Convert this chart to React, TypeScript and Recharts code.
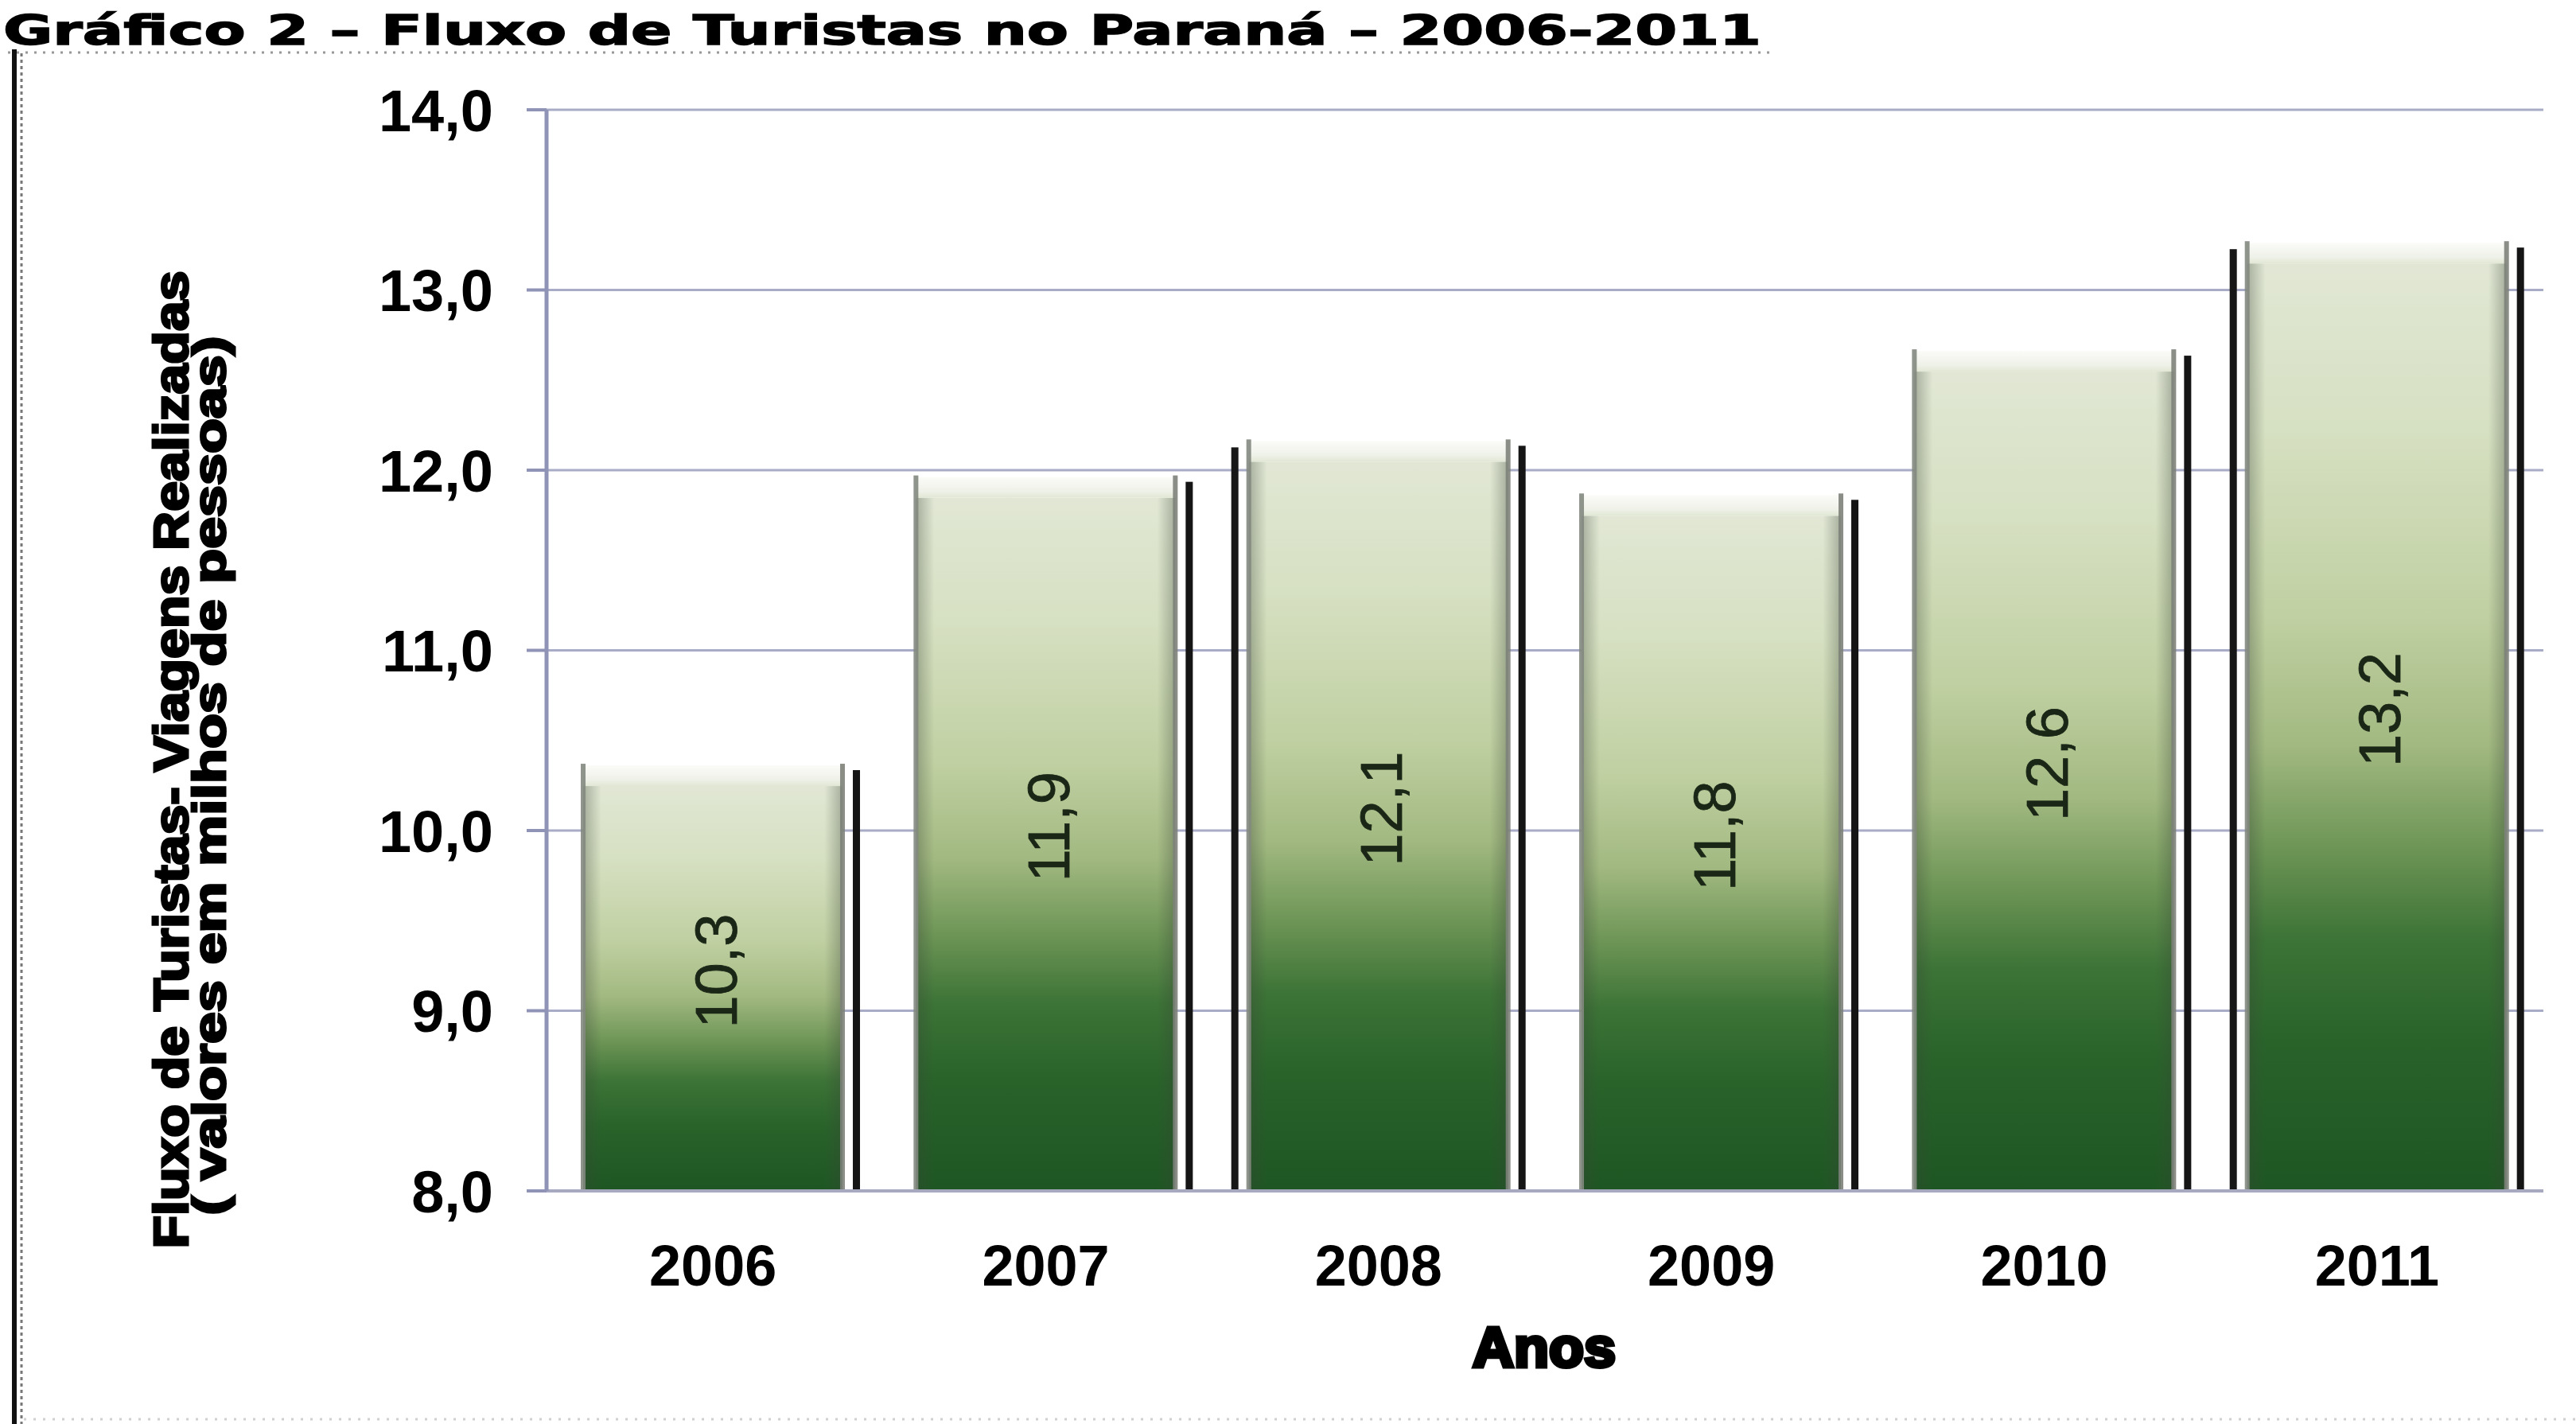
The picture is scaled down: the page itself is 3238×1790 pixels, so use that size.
import React from "react";
import { BarChart, Bar, XAxis, YAxis, CartesianGrid, LabelList } from "recharts";

// Tourist flow in Paraná, millions of trips per year
const years = ["2006", "2007", "2008", "2009", "2010", "2011"];
const flows = [10.3, 11.9, 12.1, 11.8, 12.6, 13.2];
const yTicks = [8, 9, 10, 11, 12, 13, 14];

const chartTitle = "Gráfico 2 – Fluxo de Turistas no Paraná – 2006-2011";
const yTitleLine1 = "Fluxo de Turistas- Viagens Realizadas";
const yTitleLine2 = "( valores em milhos de pessoas)";
const xTitle = "Anos";

const data = years.map((year, i) => ({ year, flow: flows[i] }));

const W = 3238;
const H = 1790;
const Y_AXIS_W = 160;
const X_AXIS_H = 60;
const MARGIN = { top: 138, right: 41, bottom: 233, left: 687 - Y_AXIS_W };

const FONT = "'Liberation Sans', Arial, sans-serif";
const GRID = "#A9ACC6";
const AXIS = "#8F93B6";

const fmt = (v: number) => v.toFixed(1).replace(".", ",");

// cylinders that also carry a dark rim on their left side
const leftRimmed = new Set(["2008", "2011"]);

function CylinderBar(props: any) {
  const { x, y, width, height, index, payload } = props;
  if (height == null || width == null) return null;
  const id = `cyl-${index}`;
  const lip = 12;
  return (
    <g>
      <defs>
        <linearGradient id={`${id}-v`} x1="0" y1="0" x2="0" y2="1">
          <stop offset="0%" stopColor="#E1E7D4" />
          <stop offset="18%" stopColor="#D6E0C2" />
          <stop offset="38%" stopColor="#C0D0A2" />
          <stop offset="52%" stopColor="#A2B981" />
          <stop offset="63%" stopColor="#6D9556" />
          <stop offset="73%" stopColor="#3C7336" />
          <stop offset="84%" stopColor="#29632A" />
          <stop offset="100%" stopColor="#1E5623" />
        </linearGradient>
        <linearGradient id={`${id}-h`} x1="0" y1="0" x2="1" y2="0">
          <stop offset="0%" stopColor="#3A4538" stopOpacity={0.35} />
          <stop offset="7%" stopColor="#3A4538" stopOpacity={0} />
          <stop offset="93%" stopColor="#3A4538" stopOpacity={0} />
          <stop offset="100%" stopColor="#3A4538" stopOpacity={0.35} />
        </linearGradient>
        <linearGradient id={`${id}-lip`} x1="0" y1="0" x2="0" y2="1">
          <stop offset="0%" stopColor="#FBFBF8" />
          <stop offset="70%" stopColor="#EEF1E8" />
          <stop offset="100%" stopColor="#E1E7D4" />
        </linearGradient>
      </defs>
      {leftRimmed.has(payload?.year) && (
        <rect x={x - 22} y={y - 6} width={9} height={height + 18} fill="#171717" />
      )}
      <rect x={x} y={y + lip} width={width} height={height - lip} fill={`url(#${id}-v)`} />
      <rect x={x} y={y + lip} width={width} height={height - lip} fill={`url(#${id}-h)`} />
      <rect x={x} y={y - 14} width={width} height={lip + 14} fill={`url(#${id}-lip)`} />
      <rect x={x - 3} y={y - 16} width={6} height={height + 16} fill="#83887F" opacity={0.9} />
      <rect x={x + width - 3} y={y - 16} width={6} height={height + 16} fill="#7D827A" opacity={0.9} />
      <rect x={x + width + 13} y={y - 8} width={9} height={height + 20} fill="#151515" />
    </g>
  );
}

function ValueLabel(props: any) {
  const { x, y, width, height, value } = props;
  if (value == null) return null;
  const cx = x + width / 2 + 4;
  const cy = y + height / 2 - 16;
  return (
    <text
      transform={`translate(${cx}, ${cy}) rotate(-90)`}
      textAnchor="middle"
      dominantBaseline="central"
      fontFamily={FONT}
      fontSize={74}
      fill="#1A2616"
      stroke="#1A2616"
      strokeWidth={0.8}
    >
      {fmt(Number(value))}
    </text>
  );
}

function YTick(props: any) {
  const { x, y, payload } = props;
  return (
    <text
      x={x}
      y={y}
      dy="0.36em"
      textAnchor="end"
      fontFamily={FONT}
      fontWeight={700}
      fontSize={74}
      fill="#000"
    >
      {fmt(Number(payload.value))}
    </text>
  );
}

function XTick(props: any) {
  const { x, y, payload } = props;
  return (
    <text
      x={x}
      y={y + 93}
      dy="0.36em"
      textAnchor="middle"
      fontFamily={FONT}
      fontWeight={700}
      fontSize={72}
      fill="#000"
    >
      {payload.value}
    </text>
  );
}

export default function App() {
  return (
    <div style={{ position: "absolute", left: 0, top: 0, width: W, height: H, background: "#fff" }}>
      <BarChart width={W} height={H} data={data} margin={MARGIN} barCategoryGap="11%">
        <CartesianGrid horizontal vertical={false} stroke={GRID} strokeWidth={3} />
        <XAxis
          dataKey="year"
          height={X_AXIS_H}
          tickLine={false}
          tickSize={0}
          tickMargin={0}
          axisLine={{ stroke: "#A7A9C0", strokeWidth: 4 }}
          tick={<XTick />}
          interval={0}
        />
        <YAxis
          type="number"
          domain={[8, 14]}
          ticks={yTicks}
          interval={0}
          allowDataOverflow
          width={Y_AXIS_W}
          tickSize={25}
          tickMargin={42}
          axisLine={{ stroke: AXIS, strokeWidth: 5 }}
          tickLine={{ stroke: AXIS, strokeWidth: 4 }}
          tick={<YTick />}
        />
        <Bar dataKey="flow" shape={<CylinderBar />} isAnimationActive={false}>
          <LabelList dataKey="flow" content={<ValueLabel />} />
        </Bar>
      </BarChart>

      <svg
        width={W}
        height={H}
        style={{ position: "absolute", left: 0, top: 0, pointerEvents: "none" }}
      >
        <text
          x={4}
          y={56}
          fontFamily="'DejaVu Sans', Verdana, sans-serif"
          fontWeight={700}
          fontSize={52}
          textLength={2210}
          lengthAdjust="spacingAndGlyphs"
          fill="#000"
          stroke="#000"
          strokeWidth={1.5}
        >
          {chartTitle}
        </text>
        <line x1={10} y1={66} x2={2232} y2={66} stroke="#444" strokeWidth={3} strokeDasharray="3 8" opacity={0.55} />
        <line x1={18} y1={62} x2={18} y2={H} stroke="#111" strokeWidth={6} />
        <line x1={27} y1={67} x2={27} y2={H} stroke="#777" strokeWidth={3} strokeDasharray="4 4" />
        <line x1={30} y1={1784} x2={W} y2={1784} stroke="#999" strokeWidth={3} strokeDasharray="3 9" opacity={0.45} />

        <text
          transform="translate(236, 955) rotate(-90)"
          textAnchor="middle"
          fontFamily={FONT}
          fontWeight={700}
          fontSize={62}
          textLength={1229}
          lengthAdjust="spacingAndGlyphs"
          fill="#000"
          stroke="#000"
          strokeWidth={3}
        >
          {yTitleLine1}
        </text>
        <text
          transform="translate(283, 975) rotate(-90)"
          textAnchor="middle"
          fontFamily={FONT}
          fontWeight={700}
          fontSize={58}
          textLength={1105}
          lengthAdjust="spacingAndGlyphs"
          fill="#000"
          stroke="#000"
          strokeWidth={3}
        >
          {yTitleLine2}
        </text>
        <text
          x={1941}
          y={1693}
          dy="0.36em"
          textAnchor="middle"
          fontFamily={FONT}
          fontWeight={700}
          fontSize={70}
          textLength={180}
          lengthAdjust="spacingAndGlyphs"
          fill="#000"
          stroke="#000"
          strokeWidth={5}
        >
          {xTitle}
        </text>
      </svg>
    </div>
  );
}
